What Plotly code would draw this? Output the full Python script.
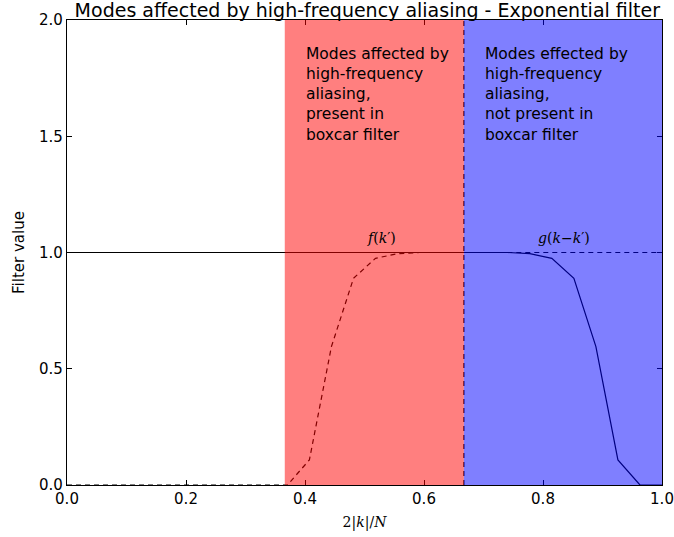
import plotly.graph_objects as go

# Data
x_f = [0.0, 0.3704, 0.4074, 0.4444, 0.4815, 0.5185, 0.5556, 0.5926, 1.0]
y_f = [0.0, 0.0, 0.108, 0.595, 0.889, 0.975, 0.995, 1.0, 1.0]

x_g = [0.0, 0.7407, 0.7778, 0.8148, 0.8519, 0.8889, 0.9259, 0.9630, 1.0]
y_g = [1.0, 1.0, 0.995, 0.975, 0.889, 0.595, 0.108, 0.0, 0.0]

red_span = [0.366, 0.667]
blue_span = [0.667, 1.0]
vline_x = 0.667

x_ticks = [0.0, 0.2, 0.4, 0.6, 0.8, 1.0]
y_ticks = [0.0, 0.5, 1.0, 1.5, 2.0]

title = "Modes affected by high-frequency aliasing - Exponential filter"
text_red = "Modes affected by<br>high-frequency<br>aliasing,<br>present in<br>boxcar filter"
text_blue = "Modes effected by<br>high-frequency<br>aliasing,<br>not present in<br>boxcar filter"

FONT = "DejaVu Sans"

fig = go.Figure()
fig.add_trace(go.Scatter(x=x_f, y=y_f, mode="lines",
                         line=dict(color="black", width=1.2, dash="5px,4px"),
                         showlegend=False, hoverinfo="skip"))
fig.add_trace(go.Scatter(x=x_g, y=y_g, mode="lines",
                         line=dict(color="black", width=1.2),
                         showlegend=False, hoverinfo="skip"))
fig.add_trace(go.Scatter(x=[vline_x, vline_x], y=[0, 2], mode="lines",
                         line=dict(color="black", width=1.2, dash="5px,4px"),
                         showlegend=False, hoverinfo="skip"))

fig.add_shape(type="rect", xref="x", yref="y", x0=red_span[0], x1=red_span[1], y0=0, y1=2,
              fillcolor="red", opacity=0.5, line=dict(width=0), layer="above")
fig.add_shape(type="rect", xref="x", yref="y", x0=blue_span[0], x1=blue_span[1], y0=0, y1=2,
              fillcolor="blue", opacity=0.5, line=dict(width=0), layer="above")

fig.add_annotation(x=0.398, y=1.9, xref="x", yref="y", text=text_red, showarrow=False,
                   xanchor="left", yanchor="top", align="left",
                   font=dict(family=FONT, size=15.5, color="black"))
fig.add_annotation(x=0.699, y=1.9, xref="x", yref="y", text=text_blue, showarrow=False,
                   xanchor="left", yanchor="top", align="left",
                   font=dict(family=FONT, size=15.5, color="black"))
fig.add_annotation(x=0.528, y=1.02, xref="x", yref="y", text="<i>f</i>(<i>k</i>′)", showarrow=False,
                   xanchor="center", yanchor="bottom",
                   font=dict(family="DejaVu Serif", size=14, color="black"))
fig.add_annotation(x=0.835, y=1.02, xref="x", yref="y", text="<i>g</i>(<i>k</i>−<i>k</i>′)", showarrow=False,
                   xanchor="center", yanchor="bottom",
                   font=dict(family="DejaVu Serif", size=14, color="black"))

axis_common = dict(showline=True, linecolor="black", linewidth=1.2, mirror="allticks",
                   ticks="inside", ticklen=5, tickwidth=1, tickcolor="black",
                   showgrid=False, zeroline=False, automargin=False,
                   tickfont=dict(family=FONT, size=15, color="black"))

fig.update_xaxes(range=[0, 1], tickvals=x_ticks, ticktext=[f"{v:.1f}" for v in x_ticks],
                 title=dict(text="2|<i>k</i>|/<i>N</i>", font=dict(family="DejaVu Serif", size=14, color="black"),
                            standoff=10),
                 **axis_common)
fig.update_yaxes(range=[0, 2], tickvals=y_ticks, ticktext=[f"{v:.1f}" for v in y_ticks],
                 title=dict(text="Filter value", font=dict(family=FONT, size=15, color="black"), standoff=10),
                 **axis_common)

fig.update_layout(
    width=674, height=537,
    margin=dict(l=67, r=12, t=20, b=52, autoexpand=False),
    plot_bgcolor="white", paper_bgcolor="white",
    title=dict(text=title, x=0.545, xanchor="center", y=0.993, yanchor="top",
               font=dict(family=FONT, size=19, color="black")),
)

fig.write_html("out.html")
